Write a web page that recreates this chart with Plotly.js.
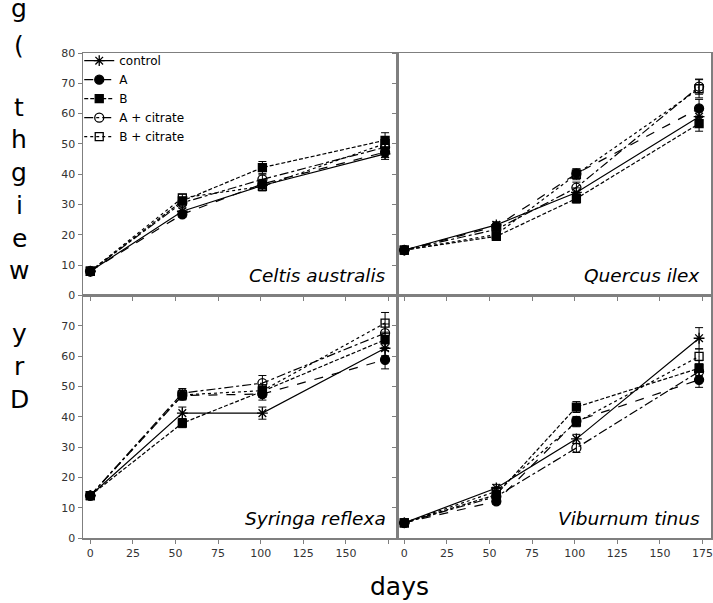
<!DOCTYPE html>
<html>
<head>
<meta charset="utf-8">
<script src="https://cdn.plot.ly/plotly-3.0.1.min.js"></script>
<style>html,body{margin:0;padding:0;background:#fff;}#chart{width:713px;height:603px;}</style>
</head>
<body>
<div id="chart"></div>
<script>
// ---- data ----
const days = [0, 54, 101, 173];
const seriesNames = ['control', 'A', 'B', 'A + citrate', 'B + citrate'];
const species = ['Celtis australis', 'Quercus ilex', 'Syringa reflexa', 'Viburnum tinus'];

const celtisControl = [8, 27.8, 36.3, 46.7];
const celtisA       = [8, 26.8, 36.8, 47.3];
const celtisB       = [8, 31.2, 42.2, 51.2];
const celtisAc      = [8, 30.6, 38.3, 48.9];
const celtisBc      = [8, 32.2, 36.0, 50.1];

const quercusControl = [15, 23.3, 34.0, 59.0];
const quercusA       = [15, 22.8, 40.2, 61.7];
const quercusB       = [15, 19.5, 32.0, 56.7];
const quercusAc      = [15, 21.8, 35.6, 68.9];
const quercusBc      = [15, 20.1, 40.0, 68.2];

const syringaControl = [14, 41.2, 41.2, 62.6];
const syringaA       = [14, 47.0, 47.5, 58.8];
const syringaB       = [14, 37.9, 48.4, 65.4];
const syringaAc      = [14, 47.8, 51.1, 67.6];
const syringaBc      = [14, 47.2, 48.6, 70.9];

const viburnumControl = [5, 16.5, 32.7, 65.9];
const viburnumA       = [5, 12.1, 38.6, 52.2];
const viburnumB       = [5, 14.3, 43.2, 56.0];
const viburnumAc      = [5, 13.7, 29.7, 54.9];
const viburnumBc      = [5, 15.4, 38.2, 59.9];

// standard errors (estimated from the bars)
const celtisErr   = [[0.3, 1.0, 1.5, 1.8], [0.3, 1.0, 1.5, 1.8], [0.3, 1.2, 2.0, 2.5], [0.3, 1.0, 1.5, 1.8], [0.3, 1.2, 1.5, 2.2]];
const quercusErr  = [[0.3, 1.0, 1.5, 3.0], [0.3, 1.0, 1.5, 3.0], [0.3, 1.0, 1.5, 2.5], [0.3, 1.0, 1.8, 2.5], [0.3, 1.0, 1.8, 3.0]];
const syringaErr  = [[0.3, 2.0, 2.0, 2.5], [0.3, 1.5, 2.0, 3.0], [0.3, 1.5, 2.0, 2.5], [0.3, 1.5, 2.5, 3.0], [0.3, 1.5, 2.0, 3.5]];
const viburnumErr = [[0.3, 1.2, 1.5, 3.5], [0.3, 1.0, 1.5, 2.5], [0.3, 1.0, 1.8, 2.5], [0.3, 1.0, 1.5, 2.5], [0.3, 1.0, 1.5, 2.5]];

const xTickVals = [0, 25, 50, 75, 100, 125, 150, 175];
const xTickTextLeft = ['0', '25', '50', '75', '100', '125', '150', ''];
const xTickTextRight = ['0', '25', '50', '75', '100', '125', '150', '175'];
const yTickValsTop = [0, 10, 20, 30, 40, 50, 60, 70, 80];
const yTickValsBottom = [0, 10, 20, 30, 40, 50, 60, 70];

const yTitleChars = ['D', 'r', 'y', 'w', 'e', 'i', 'g', 'h', 't', '(', 'g', ')'];

// ---- styles ----
const FONT = 'DejaVu Sans, Verdana, sans-serif';
const styles = [
  {symbol: 'asterisk-open', size: 9, dash: 'solid', fill: '#000'},
  {symbol: 'circle', size: 9, dash: 'dash', fill: '#000'},
  {symbol: 'square', size: 8, dash: '4px,2px', fill: '#000'},
  {symbol: 'circle-open', size: 9, dash: 'dashdot', fill: '#000'},
  {symbol: 'square-open', size: 8, dash: 'dot', fill: '#000'}
];

const panels = [
  {xa: 'x', ya: 'y', sets: [celtisControl, celtisA, celtisB, celtisAc, celtisBc], err: celtisErr},
  {xa: 'x2', ya: 'y2', sets: [quercusControl, quercusA, quercusB, quercusAc, quercusBc], err: quercusErr},
  {xa: 'x3', ya: 'y3', sets: [syringaControl, syringaA, syringaB, syringaAc, syringaBc], err: syringaErr},
  {xa: 'x4', ya: 'y4', sets: [viburnumControl, viburnumA, viburnumB, viburnumAc, viburnumBc], err: viburnumErr}
];

const traces = [];
panels.forEach((p, pi) => {
  p.sets.forEach((vals, si) => {
    const st = styles[si];
    traces.push({
      type: 'scatter', mode: 'lines+markers',
      x: days, y: vals, xaxis: p.xa, yaxis: p.ya,
      name: seriesNames[si], showlegend: pi === 0, legendgroup: seriesNames[si],
      line: {color: '#000', width: 1.2, dash: st.dash},
      marker: {symbol: st.symbol, size: st.size, color: st.fill, line: {color: '#000', width: 1.3}},
      error_y: {type: 'data', array: p.err[si], visible: true, color: '#000', thickness: 1, width: 4},
      cliponaxis: false
    });
  });
});

const axBase = {
  showline: true, mirror: true, linecolor: '#7f7f7f', linewidth: 1.5,
  ticks: 'outside', ticklen: 4, tickcolor: '#7f7f7f', tickwidth: 1,
  showgrid: false, zeroline: false,
  tickfont: {family: FONT, size: 11, color: '#333'}
};
const xRange = [-4.3, 180];
const yRange = [0, 80];

function xax(domain, anchor, showLabels, text) {
  return Object.assign({}, axBase, {domain: domain, anchor: anchor, range: xRange, tickmode: 'array', tickvals: xTickVals, ticktext: text, showticklabels: showLabels});
}
function yax(domain, anchor, showLabels, vals) {
  return Object.assign({}, axBase, {domain: domain, anchor: anchor, range: yRange, tickmode: 'array', tickvals: vals, showticklabels: showLabels});
}

const W = 713, H = 603, ML = 83, MR = 2, MT = 53, MB = 65;
const plotH = H - MT - MB, plotW = W - ML - MR;
const pyPaper = (px) => (H - MB - px) / plotH;
const pxPaper = (px) => (px - ML) / plotW;

const annotations = [];
const labelAxes = [['x', 'y'], ['x2', 'y2'], ['x3', 'y3'], ['x4', 'y4']];
species.forEach((s, i) => {
  annotations.push({
    text: s, xref: labelAxes[i][0] + ' domain', yref: labelAxes[i][1] + ' domain',
    x: 0.972, y: 0.03, xanchor: 'right', yanchor: 'bottom', showarrow: false,
    font: {family: FONT, size: 18.5, color: '#000', style: 'italic'}
  });
});
annotations.push({
  text: 'days', xref: 'paper', yref: 'paper', x: pxPaper(399), y: pyPaper(586),
  xanchor: 'center', yanchor: 'middle', showarrow: false,
  font: {family: FONT, size: 25, color: '#000'}
});
// vertical stacked y title: pixel centres of each character slot
const yTitlePx = [399, 367, 334, 270, 238, 205, 172, 139, 107, 45, 8, -25];
yTitleChars.forEach((c, i) => {
  annotations.push({
    text: c, xref: 'paper', yref: 'paper', x: pxPaper(19), y: pyPaper(yTitlePx[i]),
    xanchor: 'center', yanchor: 'middle', showarrow: false,
    font: {family: FONT, size: 25, color: '#000'}
  });
});

const layout = {
  width: W, height: H,
  margin: {l: ML, r: MR, t: MT, b: MB, pad: 0},
  paper_bgcolor: '#fff', plot_bgcolor: '#fff',
  showlegend: true,
  legend: {x: -0.006, y: 1.014, xref: 'paper', yref: 'paper', xanchor: 'left', yanchor: 'top',
    bgcolor: 'rgba(0,0,0,0)', borderwidth: 0, itemwidth: 30, tracegroupgap: 0,
    font: {family: FONT, size: 12, color: '#000'}},
  xaxis: xax([0, 0.5], 'y', false, xTickTextLeft),
  yaxis: yax([0.5, 1], 'x', true, yTickValsTop),
  xaxis2: xax([0.5, 1], 'y2', false, xTickTextRight),
  yaxis2: yax([0.5, 1], 'x2', false, yTickValsTop),
  xaxis3: xax([0, 0.5], 'y3', true, xTickTextLeft),
  yaxis3: yax([0, 0.5], 'x3', true, yTickValsBottom),
  xaxis4: xax([0.5, 1], 'y4', true, xTickTextRight),
  yaxis4: yax([0, 0.5], 'x4', false, yTickValsBottom),
  annotations: annotations
};

Plotly.newPlot('chart', traces, layout, {staticPlot: true, displayModeBar: false});
</script>
</body>
</html>
